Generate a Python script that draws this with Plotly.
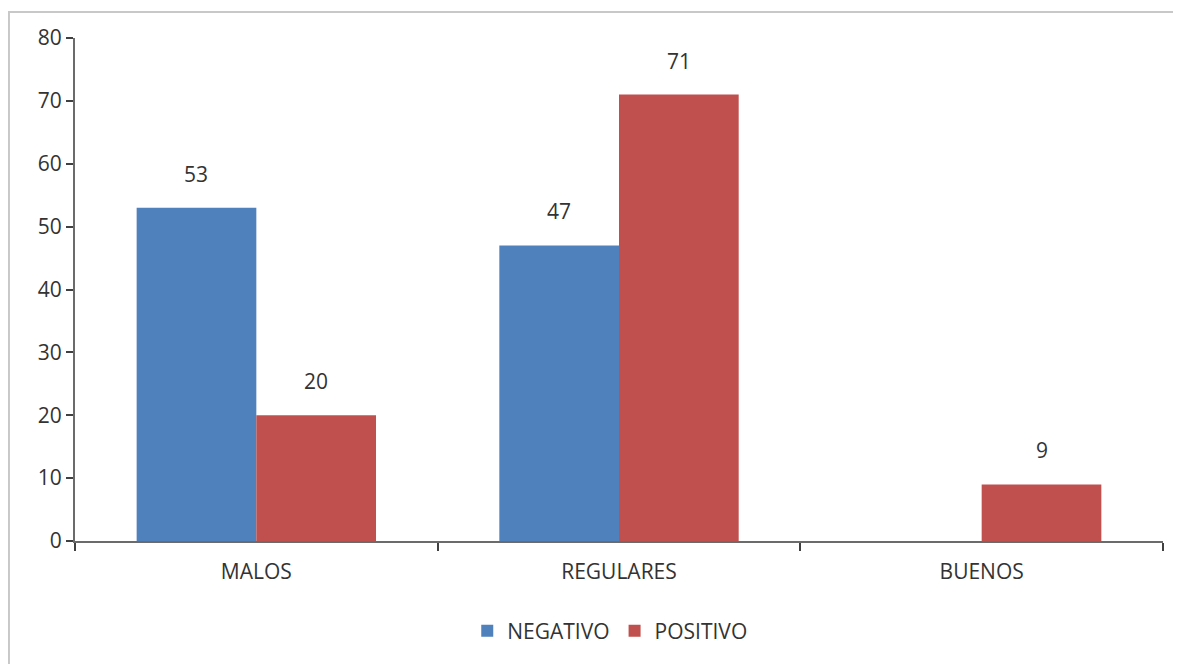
import plotly.graph_objects as go

categories = ["MALOS", "REGULARES", "BUENOS"]
negativo = [53, 47, None]
positivo = [20, 71, 9]
series_names = ["NEGATIVO", "POSITIVO"]
colors = ["#4F81BD", "#C0504D"]
y_ticks = [0, 10, 20, 30, 40, 50, 60, 70, 80]

FONT = "Open Sans"
TXT = "#333333"
FS = 21

fig = go.Figure()
for name, vals, col in zip(series_names, [negativo, positivo], colors):
    fig.add_trace(go.Bar(x=categories, y=vals, name=name, marker_color=col,
                         marker_line_width=0))

bargap = 0.34
half = (1 - bargap) / 4
annotations = []
for si, vals in enumerate([negativo, positivo]):
    off = -half if si == 0 else half
    for ci, v in enumerate(vals):
        if v is None:
            continue
        annotations.append(dict(x=ci + off, y=v, xref="x", yref="y", text=str(v),
                                showarrow=False, yanchor="middle", yshift=34,
                                font=dict(family=FONT, size=FS, color=TXT)))

fig.update_layout(
    width=1173, height=656,
    paper_bgcolor="white", plot_bgcolor="white",
    margin=dict(l=67, r=18, t=30, b=123),
    barmode="group", bargap=bargap, bargroupgap=0,
    font=dict(family=FONT, size=FS, color=TXT),
    showlegend=True,
    legend=dict(orientation="h", x=0.4915, xanchor="center", y=-0.179, yanchor="middle",
                font=dict(family=FONT, size=FS, color=TXT), itemwidth=30,
                traceorder="normal"),
    annotations=annotations,
    shapes=[dict(type="rect", xref="paper", yref="paper", x0=-0.0607, y0=-0.5,
                 x1=1.2, y1=1.0517, line=dict(color="#c8c8c8", width=2),
                 fillcolor="rgba(0,0,0,0)", layer="below")],
)
fig.update_yaxes(range=[0, 80], tickvals=y_ticks, showgrid=False, zeroline=False,
                 showline=True, linecolor="#6b6b6b", linewidth=2,
                 ticks="outside", ticklen=7, tickcolor="#404040", tickwidth=2,
                 tickfont=dict(family=FONT, size=FS, color=TXT))
fig.update_xaxes(showgrid=False, showline=True, linecolor="#6b6b6b", linewidth=2,
                 ticks="outside", tickson="boundaries", ticklen=8, tickcolor="#404040",
                 tickwidth=2, ticklabelstandoff=11,
                 tickfont=dict(family=FONT, size=FS, color=TXT))

fig.write_html("out.html")
